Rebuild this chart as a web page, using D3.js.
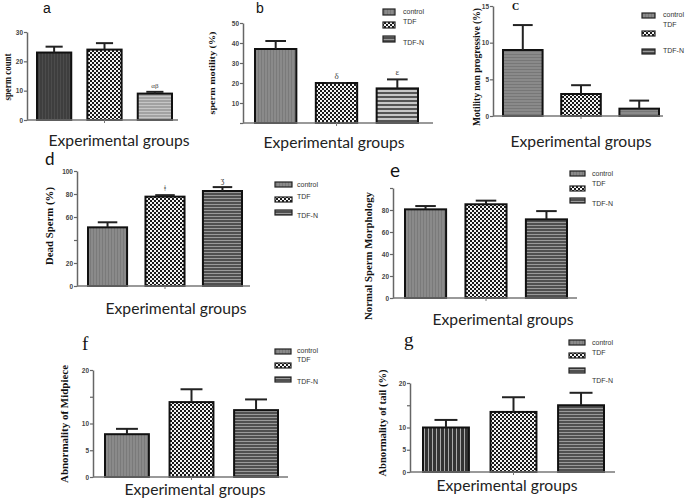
<!DOCTYPE html>
<html><head><meta charset="utf-8">
<script src="https://cdn.jsdelivr.net/npm/d3@7"></script>
<style>body{margin:0;background:#fff}svg{display:block}</style>
</head><body>
<script>
// ---------- DATA ----------
const groups = ["control", "TDF", "TDF-N"];
const spermCount = [23, 24, 9];            const spermCountErr = [2, 2.2, 0.6];
const spermMotility = [37, 20, 17.3];      const spermMotilityErr = [4, 0, 4.5];
const motilityNonProg = [9, 3, 1];         const motilityNonProgErr = [3.4, 1.2, 1.1];
const deadSperm = [51, 77.7, 82.6];        const deadSpermErr = [4.4, 1.3, 3.4];
const normalMorph = [80.6, 85.2, 71.5];    const normalMorphErr = [3, 3.3, 7.5];
const midpiece = [8, 14, 12.5];            const midpieceErr = [1, 2.4, 2];
const tailAbn = [10, 13.5, 15];            const tailAbnErr = [1.7, 3.3, 2.8];

const ticksA = [0, 10, 20, 30];            const tickLabelsA = ["0", "10", "20", "30"];
const ticksB = [0, 10, 20, 30, 40, 50];    const tickLabelsB = ["", "10", "20", "30", "40", "50"];
const ticksC = [0, 5, 10, 15];             const tickLabelsC = ["0", "5", "10", "15"];
const ticksD = [0, 20, 40, 60, 80, 100];   const tickLabelsD = ["0", "20", "", "60", "80", "100"];
const ticksE = [0, 20, 40, 60, 80, 100];   const tickLabelsE = ["0", "20", "40", "60", "80", ""];
const ticksF = [0, 5, 10, 15, 20];         const tickLabelsF = ["0", "5", "10", "", "20"];
const ticksG = [0, 5, 10, 15, 20];         const tickLabelsG = ["0", "5", "10", "", "20"];

const annotA = ["", "", "αβ"];
const annotB = ["", "δ", "ε"];
const annotD = ["", "ǂ", "ʒ"];

const xTitle = "Experimental groups";

// ---------- LAYOUT / STYLE ----------
const panels = [
  {id:"a", title:"a", tFont:"Liberation Sans", tSize:14, tWeight:400, tx:43, ty:13,
   values:spermCount, errs:spermCountErr, ticks:ticksA, labels:tickLabelsA, annot:annotA, aSize:7,
   max:30, ax:27, y0:120, yTop:32, xEnd:178, bars:[37,172],
   fills:["p-dark","p-checker","p-hl-light"],
   ylab:"sperm count", ylx:8, yly:77, ylLen:47, ylSize:9.5, ylFont:"Liberation Serif",
   xtx:119, xty:146, legend:null},
  {id:"b", title:"b", tFont:"Liberation Sans", tSize:14, tWeight:400, tx:256, ty:13,
   values:spermMotility, errs:spermMotilityErr, ticks:ticksB, labels:tickLabelsB, annot:annotB, aSize:9,
   max:50, ax:243, y0:123, yTop:23, xEnd:433, bars:[255,418],
   fills:["p-grey","p-checker","p-hl-mid"],
   ylab:"sperm motility (%)", ylx:212, yly:73, ylLen:83, ylSize:9, ylFont:"Liberation Serif",
   xtx:334, xty:148,
   legend:{bx:383, bw:12, bh:6, bys:[9,22,36], tx:403, tys:[14,24,45]}},
  {id:"c", title:"C", tFont:"Liberation Serif", tSize:10, tWeight:700, tx:512, ty:10,
   values:motilityNonProg, errs:motilityNonProgErr, ticks:ticksC, labels:tickLabelsC, annot:["","",""], aSize:8,
   max:15, ax:493, y0:116, yTop:6, xEnd:663, bars:[503,659],
   fills:["p-grey-h","p-checker","p-grey-h"],
   ylab:"Motility non progressive (%)", ylx:476, yly:67, ylLen:118, ylSize:10, ylFont:"Liberation Serif",
   xtx:581, xty:147,
   legend:{bx:642, bw:13, bh:5, bys:[13,31,49], tx:663, tys:[17,27,53]}},
  {id:"d", title:"d", tFont:"Lato", tSize:17, tWeight:400, tx:45, ty:165,
   values:deadSperm, errs:deadSpermErr, ticks:ticksD, labels:tickLabelsD, annot:annotD, aSize:8,
   max:100, ax:77, y0:286, yTop:171, xEnd:250, bars:[88,242],
   fills:["p-grey","p-checker","p-hl-dark"],
   ylab:"Dead Sperm (%)", ylx:49, yly:226, ylLen:78, ylSize:10, ylFont:"Liberation Sans Narrow",
   xtx:176, xty:314,
   legend:{bx:275, bw:17, bh:5, bys:[182,197,210], tx:297, tys:[187,199,218]}},
  {id:"e", title:"e", tFont:"Lato", tSize:19, tWeight:400, tx:390, ty:177,
   values:normalMorph, errs:normalMorphErr, ticks:ticksE, labels:tickLabelsE, annot:["","",""], aSize:8,
   max:100, ax:393, y0:298, yTop:188, xEnd:577, bars:[405,567],
   fills:["p-grey","p-checker","p-hl-dark"],
   ylab:"Normal Sperm Morphology", ylx:368, yly:256, ylLen:128, ylSize:10.5, ylFont:"Liberation Serif",
   xtx:503, xty:325,
   legend:{bx:570, bw:15, bh:5, bys:[171,186,198], tx:592, tys:[176,186,206]}},
  {id:"f", title:"f", tFont:"Liberation Serif", tSize:19, tWeight:400, tx:82, ty:350,
   values:midpiece, errs:midpieceErr, ticks:ticksF, labels:tickLabelsF, annot:["","",""], aSize:8,
   max:20, ax:93, y0:477, yTop:370, xEnd:288, bars:[105,278],
   fills:["p-grey","p-checker","p-hl-dark"],
   ylab:"Abnormality of Midpiece", ylx:64, yly:424, ylLen:118, ylSize:10, ylFont:"Liberation Serif",
   xtx:195, xty:495,
   legend:{bx:275, bw:16, bh:5, bys:[349,363,377], tx:297, tys:[353,362,384]}},
  {id:"g", title:"g", tFont:"Liberation Serif", tSize:19, tWeight:400, tx:404, ty:346,
   values:tailAbn, errs:tailAbnErr, ticks:ticksG, labels:tickLabelsG, annot:["","",""], aSize:8,
   max:20, ax:410, y0:472, yTop:383, xEnd:615, bars:[423,604],
   fills:["p-vl","p-checker","p-hl-dark"],
   ylab:"Abnormality of tail (%)", ylx:383, yly:423, ylLen:107, ylSize:9.5, ylFont:"Liberation Serif",
   xtx:507, xty:491,
   legend:{bx:569, bw:16, bh:5, bys:[340,353,368], tx:592, tys:[345,355,383]}}
];
const legendFills = ["p-grey","p-checker","p-hl-dark"];

const W = 685, H = 502;
const svg = d3.select("body").append("svg").attr("width", W).attr("height", H);
const defs = svg.append("defs");

function pat(id, w, h, bg, draw) {
  const p = defs.append("pattern").attr("id", id).attr("patternUnits", "userSpaceOnUse")
    .attr("width", w).attr("height", h);
  p.append("rect").attr("width", w).attr("height", h).attr("fill", bg);
  draw(p);
}
pat("p-checker", 4, 4, "#1a1a1a", p => {
  p.append("rect").attr("x",0).attr("y",0).attr("width",2).attr("height",2).attr("fill","#f4f4f4");
  p.append("rect").attr("x",2).attr("y",2).attr("width",2).attr("height",2).attr("fill","#f4f4f4");
});
pat("p-grey", 3, 3, "#8a8a8a", p => {
  p.append("rect").attr("x",0).attr("y",0).attr("width",1).attr("height",3).attr("fill","#7a7a7a");
});
pat("p-grey-h", 3, 3, "#8a8a8a", p => {
  p.append("rect").attr("x",0).attr("y",0).attr("width",3).attr("height",1).attr("fill","#777");
});
pat("p-dark", 3, 3, "#3e3e3e", p => {
  p.append("rect").attr("x",0).attr("y",0).attr("width",1).attr("height",3).attr("fill","#4c4c4c");
});
pat("p-hl-light", 3, 3, "#a2a2a2", p => {
  p.append("rect").attr("x",0).attr("y",0).attr("width",3).attr("height",1).attr("fill","#c6c6c6");
});
pat("p-hl-mid", 4, 4, "#c8c8c8", p => {
  p.append("rect").attr("x",0).attr("y",0).attr("width",4).attr("height",2).attr("fill","#555");
});
pat("p-hl-dark", 3, 3, "#505050", p => {
  p.append("rect").attr("x",0).attr("y",0).attr("width",3).attr("height",1).attr("fill","#9a9a9a");
});
pat("p-vl", 4, 4, "#333", p => {
  p.append("rect").attr("x",0).attr("y",0).attr("width",1).attr("height",4).attr("fill","#aaa");
});

panels.forEach(P => {
  const g = svg.append("g").attr("class", "panel-" + P.id);
  const y = d3.scaleLinear().domain([0, P.max]).range([P.y0, P.yTop]);
  const x = d3.scaleBand().domain(groups).range(P.bars).paddingInner(0.32).paddingOuter(0);
  const bw = x.bandwidth();

  // bars
  g.selectAll("rect.bar").data(groups).join("rect").attr("class","bar")
    .attr("x", d => x(d)).attr("width", bw)
    .attr("y", (d,i) => y(P.values[i])).attr("height", (d,i) => y(0) - y(P.values[i]))
    .attr("fill", (d,i) => `url(#${P.fills[i]})`)
    .attr("stroke", "#111").attr("stroke-width", 2);

  // error bars
  const eb = g.selectAll("g.err").data(groups).join("g").attr("class","err");
  eb.append("line")
    .attr("x1", d => x(d) + bw/2).attr("x2", d => x(d) + bw/2)
    .attr("y1", (d,i) => y(P.values[i])).attr("y2", (d,i) => y(P.values[i] + P.errs[i]))
    .attr("stroke", "#222").attr("stroke-width", 2);
  eb.append("line")
    .attr("x1", d => x(d) + bw*0.25).attr("x2", d => x(d) + bw*0.75)
    .attr("y1", (d,i) => y(P.values[i] + P.errs[i])).attr("y2", (d,i) => y(P.values[i] + P.errs[i]))
    .attr("stroke", "#222").attr("stroke-width", 2);

  // annotations
  g.selectAll("text.ann").data(groups).join("text").attr("class","ann")
    .attr("x", d => x(d) + bw/2)
    .attr("y", (d,i) => y(P.values[i] + P.errs[i]) - 4)
    .attr("text-anchor","middle").attr("font-family","Liberation Serif").attr("font-size", P.aSize)
    .attr("fill","#444").text((d,i) => P.annot[i]);

  // y axis
  const axis = d3.axisLeft(y).tickValues(P.ticks).tickSize(3).tickSizeOuter(0)
    .tickFormat((d,i) => P.labels[i]);
  const ag = g.append("g").attr("transform", `translate(${P.ax},0)`).call(axis);
  ag.select(".domain").attr("stroke","#666").attr("stroke-width",1.5);
  ag.selectAll(".tick line").attr("stroke","#666").attr("stroke-width",1.2);
  ag.selectAll(".tick text").attr("font-family","Liberation Sans").attr("font-weight",700)
    .attr("font-size",6.5).attr("fill","#444").attr("x",-4);

  // x axis line + small center tick
  g.append("line").attr("x1", P.ax).attr("x2", P.xEnd).attr("y1", P.y0).attr("y2", P.y0)
    .attr("stroke","#777").attr("stroke-width",1.5);
  g.append("line").attr("x1", x(groups[1]) + bw/2).attr("x2", x(groups[1]) + bw/2)
    .attr("y1", P.y0).attr("y2", P.y0 + 3).attr("stroke","#777").attr("stroke-width",1);

  // titles
  g.append("text").attr("x", P.tx).attr("y", P.ty).attr("font-family", P.tFont)
    .attr("font-size", P.tSize).attr("font-weight", P.tWeight).attr("fill","#111").text(P.title);

  // y label
  g.append("text").attr("transform", `translate(${P.ylx},${P.yly}) rotate(-90)`)
    .attr("text-anchor","middle").attr("dominant-baseline","central")
    .attr("font-family", P.ylFont).attr("font-weight",700).attr("font-size", P.ylSize)
    .attr("textLength", P.ylLen).attr("lengthAdjust","spacingAndGlyphs")
    .attr("fill","#111").text(P.ylab);

  // x title
  g.append("text").attr("x", P.xtx).attr("y", P.xty).attr("text-anchor","middle")
    .attr("font-family","Lato").attr("font-size",15.5).attr("fill","#222")
    .attr("textLength", 141).attr("lengthAdjust","spacingAndGlyphs").text(xTitle);

  // legend
  if (P.legend) {
    const L = P.legend;
    const lg = g.append("g").attr("class","legend");
    lg.selectAll("rect").data(groups).join("rect")
      .attr("x", L.bx).attr("y", (d,i) => L.bys[i]).attr("width", L.bw).attr("height", L.bh)
      .attr("fill", (d,i) => `url(#${legendFills[i]})`).attr("stroke","#222").attr("stroke-width",1.2);
    lg.selectAll("text").data(groups).join("text")
      .attr("x", L.tx).attr("y", (d,i) => L.tys[i])
      .attr("font-family","Liberation Sans Narrow, Liberation Sans").attr("font-size",7)
      .attr("fill","#333").text(d => d);
  }
});
</script>
</body></html>
